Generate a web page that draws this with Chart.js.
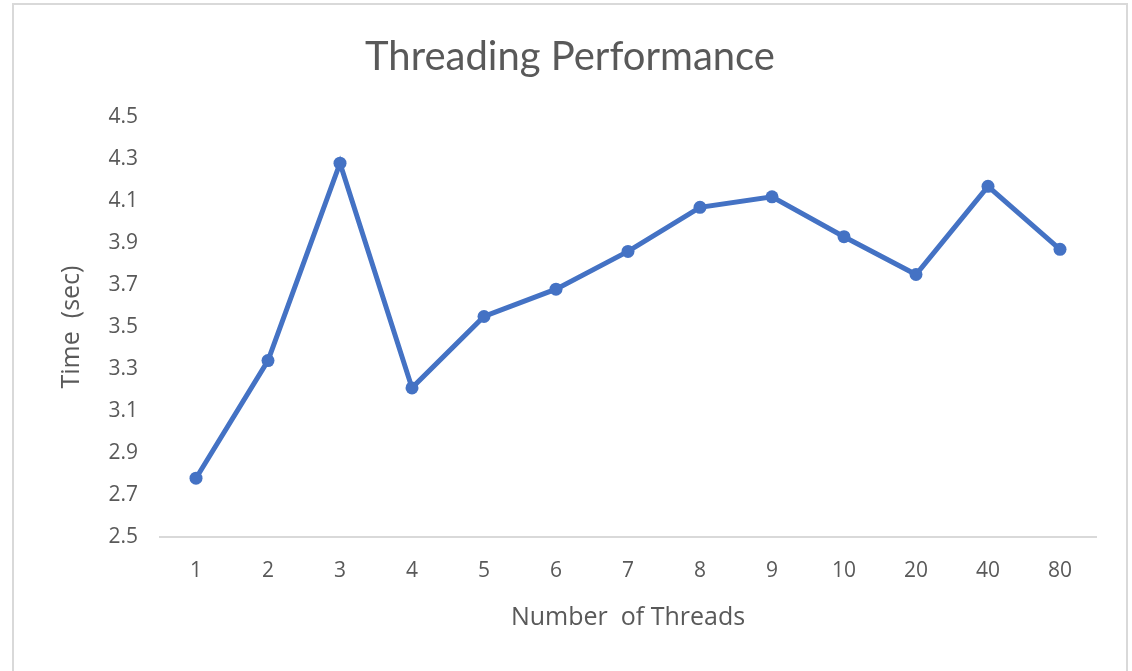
<!DOCTYPE html>
<html>
<head>
<meta charset="utf-8">
<script src="https://cdn.jsdelivr.net/npm/chart.js@4"></script>
<style>
  html, body { margin: 0; padding: 0; background: #ffffff; }
  #wrap { position: relative; width: 1132px; height: 671px; overflow: hidden; }
  #frame { position: absolute; left: 12px; top: 3px; width: 1116px; height: 700px; border: 2px solid #d9d9d9; box-sizing: border-box; pointer-events: none; }
  canvas { position: absolute; left: 0; top: 0; }
</style>
</head>
<body>
<div id="wrap">
  <canvas id="c" width="1132" height="671"></canvas>
  <div id="frame"></div>
</div>
<script>
const threadCounts = ['1', '2', '3', '4', '5', '6', '7', '8', '9', '10', '20', '40', '80'];
const timeSec = [2.78, 3.34, 4.28, 3.21, 3.55, 3.68, 3.86, 4.07, 4.12, 3.93, 3.75, 4.17, 3.87];
const yTicks = [2.5, 2.7, 2.9, 3.1, 3.3, 3.5, 3.7, 3.9, 4.1, 4.3, 4.5];

const textColor = '#595959';
const titleFamily = 'Lato, "Open Sans", sans-serif';
const labelFamily = '"Open Sans", Lato, sans-serif';

new Chart(document.getElementById('c'), {
  type: 'line',
  data: {
    labels: threadCounts,
    datasets: [{
      label: 'Time (sec)',
      data: timeSec,
      borderColor: '#4472C4',
      backgroundColor: '#4472C4',
      borderWidth: 5,
      pointRadius: 6.5,
      pointHoverRadius: 6.5,
      pointBorderWidth: 0,
      tension: 0,
      fill: false,
      yAxisID: 'y'
    }]
  },
  options: {
    responsive: false,
    animation: false,
    devicePixelRatio: 1,
    layout: { padding: { left: 8, right: 0, top: 0, bottom: 0 } },
    plugins: {
      legend: { display: false },
      tooltip: { enabled: false },
      title: {
        display: true,
        text: 'Threading Performance',
        color: textColor,
        font: { family: titleFamily, size: 40, weight: 'normal' },
        padding: { top: 33, bottom: 36 }
      }
    },
    scales: {
      x: {
        type: 'category',
        offset: true,
        grid: { display: false, drawTicks: false },
        border: { display: true, color: '#d9d9d9', width: 2 },
        ticks: { color: textColor, font: { family: labelFamily, size: 21 }, padding: 21, maxRotation: 0 },
        title: {
          display: true,
          text: 'Number  of Threads',
          color: textColor,
          font: { family: labelFamily, size: 25 },
          padding: { top: 0, bottom: 38 }
        },
        afterFit: (s) => { s.height = 134; }
      },
      y: {
        position: 'left',
        min: 2.5,
        max: 4.5,
        grid: { display: false, drawTicks: false },
        border: { display: false },
        afterBuildTicks: (s) => { s.ticks = yTicks.map(v => ({ value: v })); },
        ticks: {
          color: textColor,
          font: { family: labelFamily, size: 21 },
          padding: 22,
          callback: (v) => Number(v).toFixed(1)
        },
        title: {
          display: true,
          text: 'Time  (sec)',
          color: textColor,
          font: { family: labelFamily, size: 25 },
          padding: { top: 49, bottom: 0 }
        },
        afterFit: (s) => { s.width = 152; }
      },
      spacer: {
        type: 'linear',
        position: 'right',
        display: true,
        grid: { display: false, drawTicks: false },
        border: { display: false },
        ticks: { display: false },
        afterFit: (s) => { s.width = 36; }
      }
    }
  }
});
</script>
</body>
</html>
